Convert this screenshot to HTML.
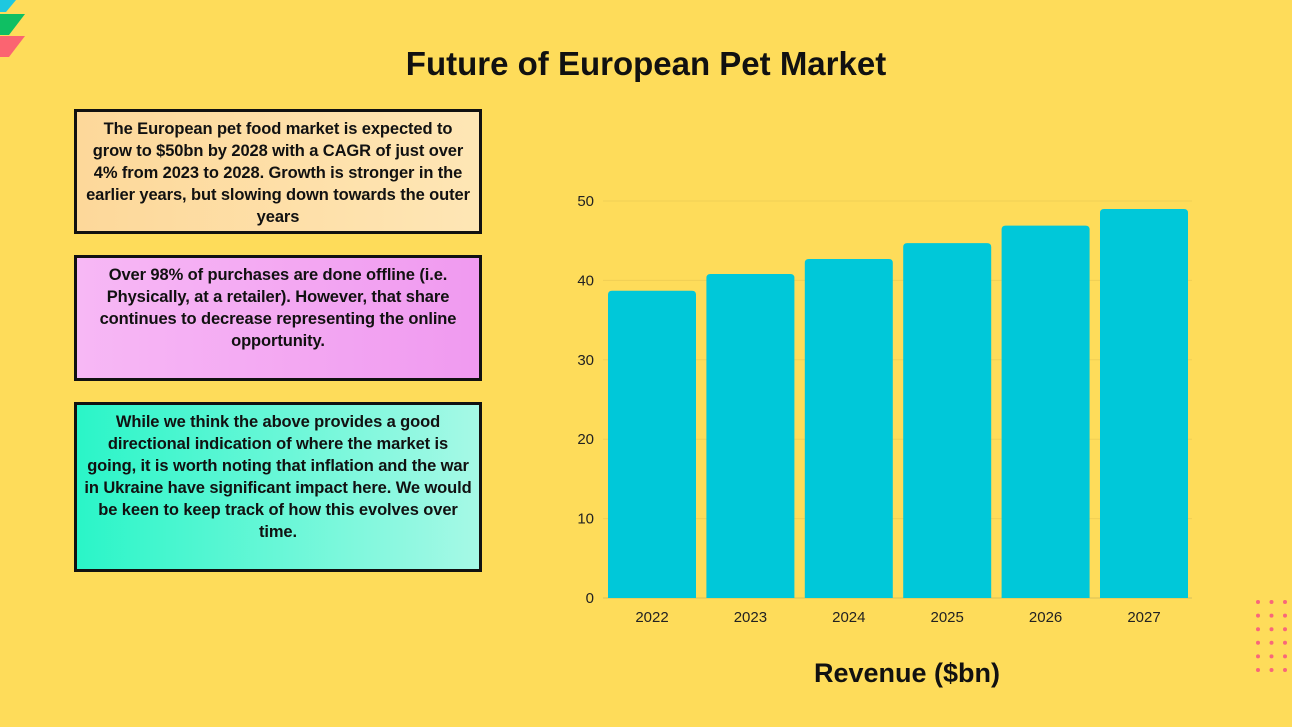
<!DOCTYPE html>
<html><head><meta charset="utf-8"><style>
body{margin:0;width:1292px;height:727px;background:#fedc5a;position:relative;overflow:hidden;font-family:"Liberation Sans",sans-serif}
.box{position:absolute;left:74px;width:402px;border:3px solid #111;box-sizing:content-box;text-align:center;font-weight:bold;font-size:16.5px;line-height:22px;color:#111;white-space:nowrap;letter-spacing:-0.1px}
h1{position:absolute;top:45px;left:0;width:1292px;text-align:center;margin:0;font-size:33px;font-weight:bold;color:#111}
</style></head><body>
<svg style="position:absolute;left:0;top:0" width="40" height="60">
<polygon points="0,0,16,0,6,12,0,12" fill="#1ec8e0"/>
<polygon points="0,14,25,14,9,35,0,35" fill="#0fbf63"/>
<polygon points="0,36,25,36,9,57,0,57" fill="#fb6471"/>
</svg>
<h1>Future of European Pet Market</h1>
<div class="box" style="top:109px;height:119px;padding-top:0;background:linear-gradient(90deg,#fdd89a,#fee6b5)"><div style="padding-top:6px">The European pet food market is expected to<br>grow to $50bn by 2028 with a CAGR of just over<br>4% from 2023 to 2028. Growth is stronger in the<br>earlier years, but slowing down towards the outer<br>years</div></div>
<div class="box" style="top:255px;height:120px;background:linear-gradient(90deg,#f7b8f5,#f09af0)"><div style="padding-top:6px">Over 98% of purchases are done offline (i.e.<br>Physically, at a retailer). However, that share<br>continues to decrease representing the online<br>opportunity.</div></div>
<div class="box" style="top:402px;height:164px;background:linear-gradient(90deg,#2af5c8,#a6f9e6)"><div style="padding-top:6px">While we think the above provides a good<br>directional indication of where the market is<br>going, it is worth noting that inflation and the war<br>in Ukraine have significant impact here. We would<br>be keen to keep track of how this evolves over<br>time.</div></div>
<svg id="chart" style="position:absolute;left:0;top:0" width="1292" height="727"></svg>
<svg style="position:absolute;left:1250px;top:595px" width="42" height="82" id="dots"></svg>
<script>
const categories=["2022","2023","2024","2025","2026","2027"];
const revenue=[38.7,40.8,42.7,44.7,46.9,49.0];
const yTicks=[0,10,20,30,40,50];
const NS="http://www.w3.org/2000/svg";
const svg=document.getElementById('chart');
const x0=603,step=98.4,bw=88,yb=598,ppu=7.94;
const y=v=>yb-v*ppu;
function mk(t,a){const e=document.createElementNS(NS,t);for(const k in a)e.setAttribute(k,a[k]);svg.appendChild(e);return e;}
yTicks.forEach(v=>{
 const l=mk('line',{x1:x0,x2:1192,y1:y(v),y2:y(v),stroke:v===0?'#d8c05a':'#f0cf55','stroke-width':1});
 
 
 const t=mk('text',{x:594,y:y(v)+5,'text-anchor':'end','font-size':15,fill:'#222','font-family':'Liberation Sans, sans-serif'});
 t.textContent=v;
 
 
});
categories.forEach((c,i)=>{
 const bx=x0+5+i*step, top=y(revenue[i]);
 const b=mk('path',{d:`M${bx},${yb}V${top+4}Q${bx},${top} ${bx+4},${top}H${bx+bw-4}Q${bx+bw},${top} ${bx+bw},${top+4}V${yb}Z`,fill:'#00c8d9'});
 
 
 const t=mk('text',{x:bx+bw/2,y:622,'text-anchor':'middle','font-size':15,fill:'#222','font-family':'Liberation Sans, sans-serif'});
 t.textContent=c;
 
 
});
const at=mk('text',{x:907,y:682,'text-anchor':'middle','font-size':27,'font-weight':'bold',fill:'#111','font-family':'Liberation Sans, sans-serif'});
at.textContent='Revenue ($bn)';


const dots=document.getElementById('dots');
for(let r=0;r<6;r++)for(let c=0;c<3;c++){const d=document.createElementNS(NS,'circle');d.setAttribute('cx',8+c*13.5);d.setAttribute('cy',7+r*13.6);d.setAttribute('r',2);d.setAttribute('fill','#f9677a');


dots.appendChild(d);}
</script>
</body></html>
